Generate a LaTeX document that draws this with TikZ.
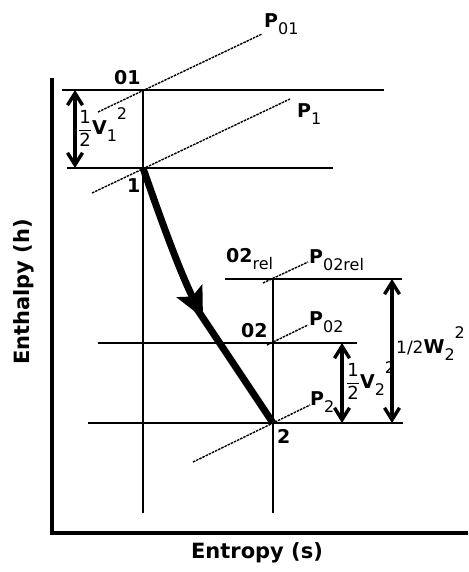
\documentclass[tikz,border=0pt]{standalone}
\usepackage{amsmath}
\usepackage{fontspec}
\setmainfont{DejaVu Sans}
\usepackage{tikz}
\usetikzlibrary{arrows.meta,calc}
\definecolor{hsInk}{HTML}{000000}
\newcommand\subtx[1]{\raisebox{-7pt}{\fontsize{16}{16}\selectfont\mdseries #1}}
\newcommand\suptx[1]{\raisebox{15pt}{\fontsize{16}{16}\selectfont\mdseries #1}}
\newcommand\halftx{{\fontsize{18}{18}\selectfont\mdseries$\dfrac{\text{1}}{\text{2}}$}}
\tikzset{
  axis/.style    ={hsInk,line width=3.4pt},
  grid/.style    ={hsInk,line width=1.4pt},
  isobar/.style  ={hsInk,line width=1.4pt,dash pattern=on 2.5pt off 1pt},
  process/.style ={hsInk,line width=7pt},
  dim/.style     ={{Straight Barb[length=12pt,width=15pt]}-{Straight Barb[length=12pt,width=15pt]},
                   hsInk,line width=3.4pt},
  lbl/.style     ={font=\fontsize{19}{21}\selectfont\bfseries,text=hsInk,inner sep=0pt},
  axlbl/.style   ={font=\fontsize{21}{23}\selectfont\bfseries,text=hsInk,inner sep=0pt},
}
\begin{document}
\begin{tikzpicture}[x=1pt,y=-1pt]
\useasboundingbox[fill=white] (0,0) rectangle (468,572);
%% state points
\coordinate (s01)  at (143,90);
\coordinate (s1)   at (143,168);
\coordinate (s02r) at (273,279);
\coordinate (s02)  at (273,343);
\coordinate (s2)   at (273,423);
\coordinate (b1)   at (143,513);
\coordinate (b2)   at (273,513);
%% axes
\coordinate (ytop) at (52,78);
\coordinate (O)    at (52,533);
\coordinate (xend) at (468,533);
\draw[axis] (ytop) -- (O) -- (xend);
\node[axlbl,rotate=90] (hlab) at (24,292) {Enthalpy (h)};
\node[axlbl] (slab) at (257,553) {Entropy (s)};
%% constant enthalpy / entropy lines
\foreach \p/\l/\r in {s01/81/241, s1/76/190, s02r/48/129, s02/175/84, s2/185/130}
  \draw[grid] ($(\p)+(-\l,0)$) -- ($(\p)+(\r,0)$);
\draw[grid] (s01) -- (b1);
\draw[grid] (s02r) -- (b2);
%% isobars
\draw[isobar] ($(s01)+(-45,22)$) -- ($(s01)+(119,-56)$);
\draw[isobar] ($(s1)+(-51,25)$) -- ($(s1)+(147,-69)$);
\draw[isobar] ($(s02r)+(-10,4)$) -- ($(s02r)+(35,-17)$);
\draw[isobar] ($(s02)+(-6,2)$) -- ($(s02)+(35,-18)$);
\draw[isobar] ($(s2)+(-80,39)$) -- ($(s2)+(37,-18)$);
%% expansion 1 -> 2
\coordinate (tip) at (203,318);
\draw[process] ($(tip)!-16pt!(s2)$) -- (s2);
\draw[process,-{Stealth[length=30pt,width=28pt,inset=6pt]}]
  (s1) .. controls (161,220) and (180,272) .. (tip);
%% kinetic energy heights
\coordinate (k1) at (75,0);
\coordinate (k2) at (342,0);
\coordinate (k3) at (392,0);
\draw[dim] (k1 |- s01) -- (k1 |- s1);
\draw[dim] (k2 |- s02) -- (k2 |- s2);
\draw[dim] (k3 |- s02r) -- (k3 |- s2);
%% labels
\node[lbl,anchor=base west] (l01)   at (114,85)  {01};
\node[lbl,anchor=base west] (l1)    at (127,192) {1};
\node[lbl,anchor=base west] (l02r)  at (226,262) {02\subtx{rel}};
\node[lbl,anchor=base west] (l02)   at (241,337) {02};
\node[lbl,anchor=base west] (l2)    at (277,443) {2};
\node[lbl,anchor=base west] (lP01)  at (264,28)  {P\subtx{01}};
\node[lbl,anchor=base west] (lP1)   at (297,118) {P\subtx{1}};
\node[lbl,anchor=base west] (lP02r) at (309,263) {P\subtx{02rel}};
\node[lbl,anchor=base west] (lP02)  at (309,325) {P\subtx{02}};
\node[lbl,anchor=base west] (lP2)   at (310,405) {P\subtx{2}};
\node[lbl,anchor=base west] (lv1)   at (78,135)  {\halftx V\subtx{1}\suptx{2}};
\node[lbl,anchor=base west] (lv2)   at (346,388) {\halftx V\subtx{2}\suptx{2}};
\node[lbl,anchor=base west] (lw2)   at (396,353)
  {{\fontsize{17}{17}\selectfont\mdseries 1/2}W\subtx{2}\suptx{2}};
\end{tikzpicture}
\end{document}
